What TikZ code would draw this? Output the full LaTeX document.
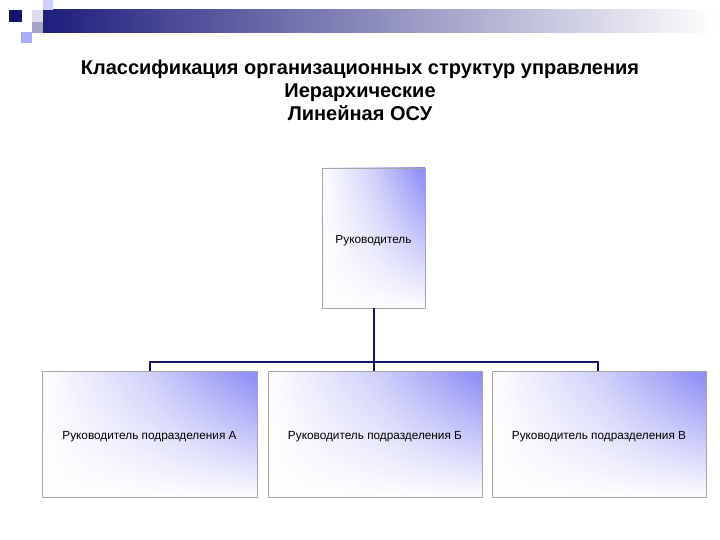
\documentclass[tikz,border=0pt]{standalone}
\usepackage{fontspec}
\setmainfont{Liberation Sans}
\usetikzlibrary{fadings}
\definecolor{navy}{RGB}{20,20,110}
\definecolor{lav}{RGB}{135,135,245}
\definecolor{barL}{RGB}{30,30,125}
\tikzset{
  box/.style={draw=gray!70, line width=0.6pt},
  conn/.style={draw=navy, line width=2pt},
  lbl/.style={font=\fontsize{11.8}{13}\selectfont, inner sep=0pt},
}
\newcommand{\gbox}[5]{%
  \begin{scope}
  \clip (#1,#2) rectangle (#3,#4);
  \fill[left color=white, right color=lav, middle color=white!60!lav] (#1,#2) rectangle (#3,#4);
  \fill[white, path fading=north] (#1,#2-2) rectangle (#3,#4+2);
  \end{scope}
  \draw[box] (#1,#2) rectangle (#3,#4);
  \node[lbl] (#5) at ({(#1+#3)/2},{(#2+#4)/2}) {};
}
\begin{document}
\begin{tikzpicture}[x=1pt,y=-1pt]
\useasboundingbox (0,0) rectangle (720,540);
% decoration
\fill[left color=barL, right color=white] (43,10) rectangle (715,33);
\fill[barL!40!white] (32,22) rectangle (43,33);
\fill[barL!15!white] (32,10) rectangle (43,22);
\fill[navy] (9,10) rectangle (22,22);
\fill[lav!70!white] (21,32) rectangle (32,43);
\fill[lav!40!white] (43,0) rectangle (53,10);
% title
\node[font=\bfseries\fontsize{20}{23}\selectfont, align=center] (title) at (360,90)
  {Классификация организационных структур управления\\Иерархические\\Линейная ОСУ};
% boxes
\gbox{322}{168}{425}{308}{top}
\node[lbl] at ([yshift=-3pt]top) {Руководитель};
\gbox{42}{371}{257}{497}{a}
\node[lbl] at ([yshift=-3pt]a) {Руководитель подразделения А};
\gbox{268}{371}{482}{497}{b}
\node[lbl] at ([yshift=-3pt]b) {Руководитель подразделения Б};
\gbox{492}{371}{706}{497}{c}
\node[lbl] at ([yshift=-3pt]c) {Руководитель подразделения В};
% connectors
\coordinate (j) at (374,362);
\draw[conn] (374,308) -- (j);
\draw[conn] (150,371) -- (150,362) -- (598,362) -- (598,371);
\draw[conn] (j) -- (374,371);
\end{tikzpicture}
\end{document}
